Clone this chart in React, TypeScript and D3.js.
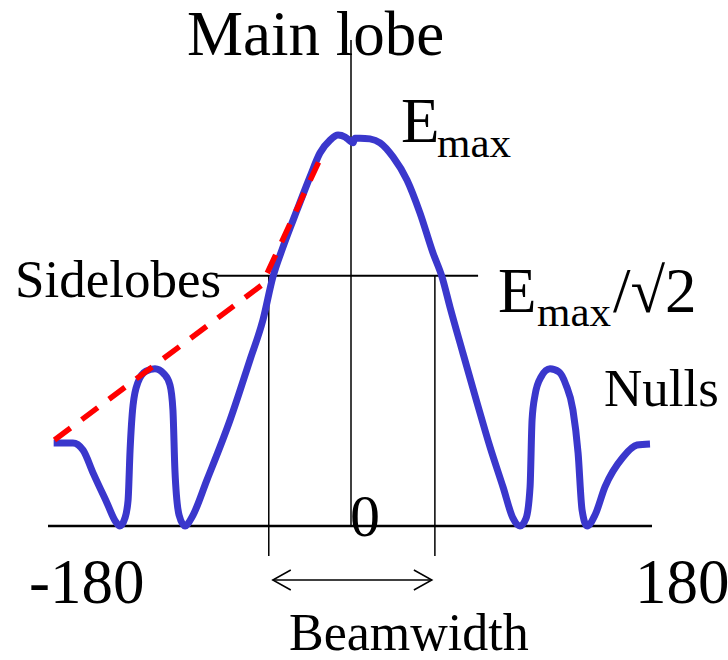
import React from "react";
import * as d3 from "d3";

// Radiation pattern: angle (degrees) vs relative field amplitude (E/Emax)
const patternAngles = [
  -179, -167.4, -161.3, -155.3, -146.9, -141.5, -139.1, -136.1, -134.2, -133.0, -131.2, -128.2,
  -123.4, -118.0, -112.6, -109.0, -107.2, -106.0, -103.5, -99.9, -95.7, -86.7, -72.8, -60.8,
  -53.0, -47.0, -40.9, -32.5, -24.7, -18.7, -12.6, -7.8, -3.6, -0.6, 1.2, 2.4, 5.4, 11.4, 17.5,
  25.3, 33.7, 41.5, 49.4, 54.8, 59.6, 67.4, 75.9, 83.7, 91.5, 97.5, 101.7, 105.4, 107.8, 109.0,
  110.8, 114.4, 119.8, 125.2, 129.4, 133.6, 136.7, 139.1, 142.1, 146.9, 152.9, 163.7, 172.2, 180,
];
const patternValues = [
  0.212, 0.212, 0.194, 0.136, 0.059, 0.01, 0, 0.02, 0.066, 0.194, 0.309, 0.368,
  0.396, 0.402, 0.389, 0.361, 0.297, 0.143, 0.028, 0, 0.023, 0.118, 0.271, 0.425,
  0.527, 0.637, 0.714, 0.808, 0.893, 0.954, 0.987, 1.0, 0.995, 0.985, 0.98, 0.992, 0.992, 0.99, 0.98,
  0.944, 0.885, 0.801, 0.698, 0.637, 0.56, 0.442, 0.315, 0.202, 0.1, 0.02, 0, 0.02, 0.1, 0.271,
  0.335, 0.381, 0.402, 0.394, 0.361, 0.297, 0.187, 0.041, 0, 0.028, 0.1, 0.176, 0.207, 0.21,
];

// Sidelobe envelope (red dashed)
const envelopeAngles = [-178.5, -53.8, -17.5];
const envelopeValues = [0.22, 0.616, 0.949];

// Half-power level and beamwidth edges
const halfPowerLevel = 0.64;
const halfPowerSpan = [-81, 76.5];
const beamEdges = [-49.5, 50.5];

const axisTickLabels = ["-180", "0", "180"];

const W = 728;
const H = 660;
const FONT = "'Liberation Serif', 'Times New Roman', serif";

export default function App() {
  const x = d3.scaleLinear().domain([-180, 180]).range([52, 650]);
  const y = d3.scaleLinear().domain([0, 1]).range([526, 135]);

  const pattern = patternAngles.map((a, i) => [a, patternValues[i]] as [number, number]);
  const envelope = envelopeAngles.map((a, i) => [a, envelopeValues[i]] as [number, number]);

  const line = d3
    .line<[number, number]>()
    .x((d) => x(d[0]))
    .y((d) => y(d[1]))
    .curve(d3.curveMonotoneX);
  const straight = d3
    .line<[number, number]>()
    .x((d) => x(d[0]))
    .y((d) => y(d[1]));

  const yHalf = y(halfPowerLevel);
  const xL = x(beamEdges[0]);
  const xR = x(beamEdges[1]);
  const arrowY = 580;
  const aL = xL + 4;
  const aR = xR - 3;

  return (
    <svg
      width={W}
      height={H}
      style={{ position: "absolute", left: 0, top: 0, background: "#fff" }}
      fontFamily={FONT}
    >
      {/* axes */}
      <line x1={x(0)} x2={x(0)} y1={40} y2={y(0)} stroke="#000" strokeWidth={1.5} />
      <line x1={48} x2={652} y1={y(0)} y2={y(0)} stroke="#000" strokeWidth={2.5} />
      {/* half-power line */}
      <line x1={x(halfPowerSpan[0])} x2={x(halfPowerSpan[1])} y1={yHalf} y2={yHalf} stroke="#000" strokeWidth={2} />
      {/* beamwidth edges */}
      {[xL, xR].map((xx, i) => (
        <line key={i} x1={xx} x2={xx} y1={yHalf} y2={556} stroke="#000" strokeWidth={1.5} />
      ))}
      {/* beamwidth arrow */}
      <line x1={aL} x2={aR} y1={arrowY} y2={arrowY} stroke="#000" strokeWidth={1.5} />
      <polyline points={`${aL + 18},${arrowY - 10} ${aL},${arrowY} ${aL + 18},${arrowY + 10}`} fill="none" stroke="#000" strokeWidth={1.5} />
      <polyline points={`${aR - 18},${arrowY - 10} ${aR},${arrowY} ${aR - 18},${arrowY + 10}`} fill="none" stroke="#000" strokeWidth={1.5} />

      {/* pattern */}
      <path d={line(pattern) || ""} fill="none" stroke="#3a37cc" strokeWidth={7} strokeLinejoin="round" strokeLinecap="butt" />
      {/* sidelobe envelope */}
      <path d={straight(envelope) || ""} fill="none" stroke="#ff0000" strokeWidth={5.5} strokeDasharray="20 14" />

      {/* texts */}
      <text x={187} y={55} fontSize={63}>Main lobe</text>
      <text x={401} y={142} fontSize={63}>E</text>
      <text x={437} y={157} fontSize={43}>max</text>
      <text x={15} y={297} fontSize={53}>Sidelobes</text>
      <text x={498} y={312} fontSize={63}>E</text>
      <text x={537} y={326} fontSize={43}>max</text>
      <text x={613} y={312} fontSize={63}>/√2</text>
      <text x={604} y={406} fontSize={53}>Nulls</text>
      <text x={350} y={536} fontSize={60}>{axisTickLabels[1]}</text>
      <text x={29} y={603} fontSize={63}>{axisTickLabels[0]}</text>
      <text x={635} y={603} fontSize={63}>{axisTickLabels[2]}</text>
      <text x={289} y={650} fontSize={52}>Beamwidth</text>
    </svg>
  );
}
